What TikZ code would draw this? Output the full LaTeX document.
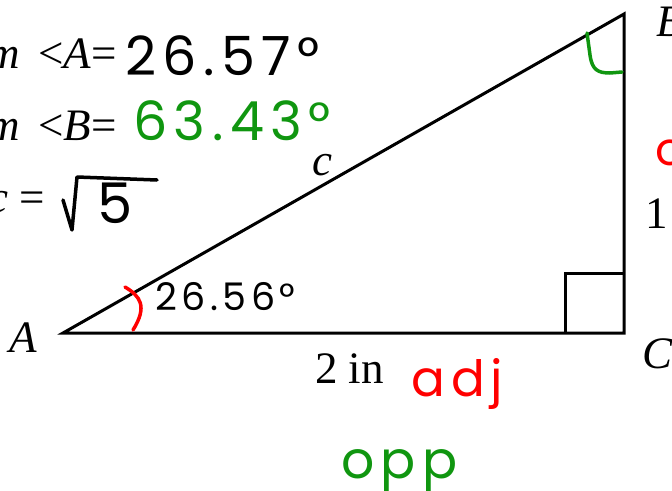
\documentclass[tikz,border=0pt]{standalone}
\usepackage{fontspec}
\setmainfont{Liberation Serif}
\newfontfamily\handfont[LetterSpace=12]{Poppins}
\usetikzlibrary{calc}
\definecolor{penred}{RGB}{255,0,0}
\definecolor{pengreen}{RGB}{16,150,16}

\begin{document}
\begin{tikzpicture}[x=1pt,y=-1pt,
    typed/.style={font=\fontsize{45}{48}\selectfont, inner sep=0pt},
    hand/.style={font=\handfont\fontsize{#1}{#1}\selectfont, inner sep=0pt},
    pen/.style={line width=3.5pt, line cap=round, line join=round}]
    \useasboundingbox (0,0) rectangle (672,490);
    \clip (0,0) rectangle (672,490);
    \coordinate (A) at (63,333);
    \coordinate (C) at (624,333);
    \coordinate (B) at (624,14);
    % triangle and right angle
    \draw[line width=3pt] (A) -- (C) -- (B) -- cycle;
    \draw[line width=3pt] (C) ++(-59,0) -- ++(0,-60) -- ++(59,0);
    % typed labels
    \node[typed, anchor=base east] (lblA) at (37,352) {\textit{A}};
    \node[typed, anchor=base west] (lblB) at (656,36) {\textit{B}};
    \node[typed, anchor=base west] (lblC) at (642,368) {\textit{C}};
    \node[typed, anchor=base west] (lbl1) at (645,228) {1};
    \node[typed, anchor=base] (lblc) at (322,175) {\textit{c}};
    \node[typed, anchor=base west] (lbl2in) at (315,383) {2 in};
    \node[typed, anchor=base east] (mA) at (117,68) {\textit{m}\, <\textit{A}=};
    \node[typed, anchor=base east] (mB) at (117,140) {\textit{m}\, <\textit{B}=};
    \node[typed, anchor=base east] (cval) at (45,212) {\textit{c} =};
    % pen notes
    \node[hand=54, anchor=base west] (angA) at (125,75) {26.57°};
    \node[hand=54, anchor=base west, text=pengreen] (angB) at (133,140) {63.43°};
    \node[hand=56, anchor=base west] (five) at (97,223) {5};
    \draw[pen] (63,200) -- (72,230) -- (77,177) -- (157,180);
    \node[hand=38, anchor=base west] (angAsm) at (155,310) {26.56°};
    \node[hand=50, anchor=base west, text=penred] (adj) at (411,396) {adj};
    \node[hand=52, anchor=base west, text=pengreen] (opp) at (341,478) {opp};
    \node[hand=46, anchor=base west, text=penred] (sideop) at (655,165) {o};
    % angle marks
    \draw[pen, penred] (125,287) .. controls (140,296) and (148,306) .. (133,330);
    \draw[pen, pengreen] (587,33) -- (590,55) .. controls (592,70) and (598,73) .. (610,73) -- (622,72);
\end{tikzpicture}
\end{document}
